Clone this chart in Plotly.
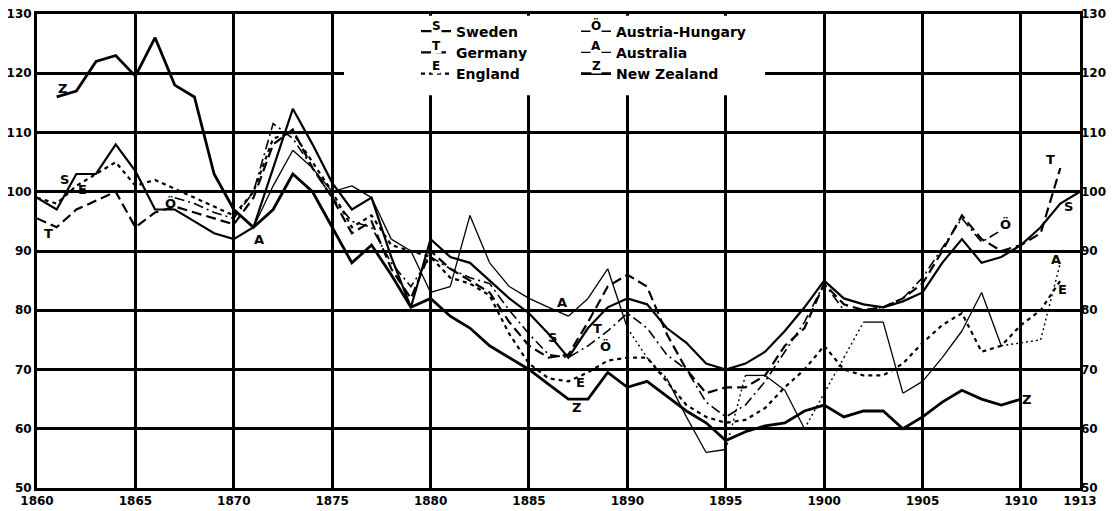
import plotly.graph_objects as go

years = list(range(1860, 1914))

sweden = [99, 97, 103, 103, 108, 103.5, 97, 97, 95, 93,
          92, 94, 104, 114, 108, 101.5, 97, 99, 89, 80.5,
          92, 89, 88, 85, 82, 79.5, 76, 72, 77, 80.5,
          82, 81, 77, 74.5, 71, 70, 71, 73, 76.5, 80.5,
          85, 82, 81, 80.5, 81.5, 83, 88, 92, 88, 89,
          91, 94, 98, 100]
germany = [95.5, 94, 97, 98.5, 100, 94, 96.5, 97.5, 96.5, 95.5,
           94.5, 99, 108, 110.5, 104, 99, 93, 95, 87, 82,
           90, 87, 85, 83, 78, 74, 72, 72.5, 78, 84,
           86, 84, 76, 70, 66, 67, 67, 69, 74, 77,
           84.5, 81, 80, 80.5, 82, 84.5, 90, 96, 92, 90,
           91, 93, 104, None]
england = [99, 98, 101, 103, 105, 101, 102, 100.5, 99, 97.5,
           96, 100, 109, 110, 105, 100, 94, 96, 91, 90,
           89, 85.5, 84.5, 82.5, 76, 71, 68.5, 68, 69.5, 71.5,
           72, 72, 68, 64, 62, 61, 61.5, 63.5, 67, 70,
           74, 70, 69, 69, 71, 74.5, 77.5, 79.5, 73, 74,
           77.5, 80, 85, None]
austria = [None, None, None, None, None, None, None, 99, 98, 96.5,
           95.5, 100, 111.5, 109, 104, 99, 95, 94, 88, 84,
           89, 87, 85.5, 84.5, 80, 76, 72.5, 72, 74, 76.5,
           79.5, 77, 72.5, 70, 64.5, 62, 64, 68, 73, 78,
           84.5, 80, 80, 80.5, 82, 85.5, 90.5, 95.5, 91.5, 93.5,
           None, None, None, None]
australia = [None, None, None, None, None, None, None, None, None, None,
             None, 94, 101, 107, 104, 100, 101, 99, 92, 90,
             83, 84, 96, 88, 84, 82, 80.5, 79, 82, 87,
             77, 72, 68.5, 62, 56, 56.5, 69, 69, 66.5, 60,
             66, 72, 78, 78, 66, 68, 72, 76.5, 83, 74,
             74.5, 75, 88, None]
# years whose segment to the next year is drawn dotted in the Australia line
australia_dotted_from = [1890, 1891, 1895, 1899, 1900, 1901, 1909, 1910, 1911]
new_zealand = [None, 116, 117, 122, 123, 119.5, 126, 118, 116, 103,
               97, 94, 97, 103, 100, 94, 88, 91, 86, 80.5,
               82, 79, 77, 74, 72, 70, 67.5, 65, 65, 69.5,
               67, 68, 65.5, 63, 61, 58, 59.5, 60.5, 61, 63,
               64, 62, 63, 63, 60, 62, 64.5, 66.5, 65, 64,
               65, None, None, None]

x_ticks = [1860, 1865, 1870, 1875, 1880, 1885, 1890, 1895, 1900, 1905, 1910, 1913]
y_ticks = [50, 60, 70, 80, 90, 100, 110, 120, 130]

# in-chart letter labels: (letter, year, value)
labels = [("Z", 1861.3, 117.5), ("S", 1861.4, 102), ("E", 1862.3, 100.3),
          ("T", 1860.6, 93), ("Ö", 1866.8, 98), ("A", 1871.3, 92),
          ("A", 1886.7, 81.3), ("S", 1886.2, 75.4), ("T", 1888.5, 77),
          ("Ö", 1888.9, 73.8), ("E", 1887.6, 67.8), ("Z", 1887.4, 63.6),
          ("Z", 1910.3, 64.9), ("Ö", 1909.2, 94.4), ("T", 1911.5, 105.4),
          ("S", 1912.4, 97.5), ("A", 1911.8, 88.5), ("E", 1912.1, 83.5)]

# key letters shown on the legend samples: (letter, paper x, paper y)
key_letters = [("S", 0.3826, 0.9747), ("T", 0.3826, 0.9325), ("E", 0.3826, 0.8903),
               ("Ö", 0.536, 0.9747), ("A", 0.536, 0.9325), ("Z", 0.536, 0.8903)]

FONT = "DejaVu Sans"
TICKF = dict(family=FONT, size=12, color="black", weight="bold")

fig = go.Figure()


def segments(vals, pick):
    xs, ys = [], []
    for i in range(len(years) - 1):
        a, b = vals[i], vals[i + 1]
        if a is None or b is None or not pick(years[i]):
            continue
        xs += [years[i], years[i + 1], None]
        ys += [a, b, None]
    return xs, ys


series = [
    ("Sweden", sweden, dict(width=2.2, dash="solid"), "legend"),
    ("Austria-Hungary", austria, dict(width=1.6, dash="10px,4px,2px,4px"), "legend2"),
    ("Germany", germany, dict(width=2.2, dash="10px,5px"), "legend"),
    ("Australia", australia, dict(width=1.3, dash="solid"), "legend2"),
    ("England", england, dict(width=2.2, dash="4px,4px"), "legend"),
    ("New Zealand", new_zealand, dict(width=2.8, dash="solid"), "legend2"),
]
for name, vals, ln, lg in series:
    if name == "Australia":
        xs, ys = segments(vals, lambda y: y not in australia_dotted_from)
        fig.add_trace(go.Scatter(x=xs, y=ys, name=name, mode="lines",
                                 line=dict(color="black", **ln), legend=lg))
        xs, ys = segments(vals, lambda y: y in australia_dotted_from)
        fig.add_trace(go.Scatter(x=xs, y=ys, name=name, mode="lines", showlegend=False,
                                 line=dict(color="black", width=1.4, dash="2px,3px")))
    else:
        fig.add_trace(go.Scatter(x=years, y=vals, name=name, mode="lines",
                                 line=dict(color="black", **ln), legend=lg,
                                 connectgaps=False))

# carrier so the right-hand value axis is drawn
fig.add_trace(go.Scatter(x=[years[0]], y=[y_ticks[0]], yaxis="y2", mode="lines",
                         showlegend=False, hoverinfo="skip", line=dict(width=0)))

# white area behind the key (no grid there)
fig.add_shape(type="rect", xref="x", yref="y", x0=1875.6, x1=1897.0, y0=116.3, y1=129.7,
              fillcolor="white", line=dict(width=0), layer="between")

for t, xv, yv in labels:
    fig.add_annotation(x=xv, y=yv, text=t, showarrow=False,
                       xanchor="center", yanchor="middle",
                       font=dict(family=FONT, size=13, color="black", weight="bold"))
for t, xv, yv in key_letters:
    fig.add_annotation(x=xv, y=yv, xref="paper", yref="paper", text=t, showarrow=False,
                       xanchor="center", yanchor="middle",
                       bgcolor="white", borderpad=0,
                       font=dict(family=FONT, size=12, color="black", weight="bold"))

axis_common = dict(showline=True, linecolor="black", linewidth=3, mirror=True,
                   showgrid=True, gridcolor="black", gridwidth=2.5,
                   ticks="", zeroline=False, tickfont=TICKF)

LEGF = dict(family=FONT, size=14, color="black", weight="bold")
# the page body adds an 8px offset, so the figure is 8px smaller than the window
fig.update_layout(
    width=1106, height=503,
    margin=dict(l=29, r=34, t=6, b=23, autoexpand=False),
    paper_bgcolor="white", plot_bgcolor="white",
    showlegend=True,
    xaxis=dict(range=[1860, 1913], tickvals=x_ticks, ticktext=[str(v) for v in x_ticks],
               ticklabeloverflow="allow", **axis_common),
    yaxis=dict(range=[50, 130], tickvals=y_ticks, ticklabeloverflow="allow", **axis_common),
    yaxis2=dict(range=[50, 130], tickvals=y_ticks, overlaying="y", side="right",
                showgrid=False, showline=False, ticks="", zeroline=False, tickfont=TICKF,
                ticklabeloverflow="allow"),
    legend=dict(x=0.3634, y=0.9966, xanchor="left", yanchor="top", bgcolor="rgba(0,0,0,0)",
                font=LEGF, tracegroupgap=0, itemwidth=30),
    legend2=dict(x=0.5168, y=0.9966, xanchor="left", yanchor="top", bgcolor="rgba(0,0,0,0)",
                 font=LEGF, tracegroupgap=0, itemwidth=30),
)

fig.write_html("out.html")
